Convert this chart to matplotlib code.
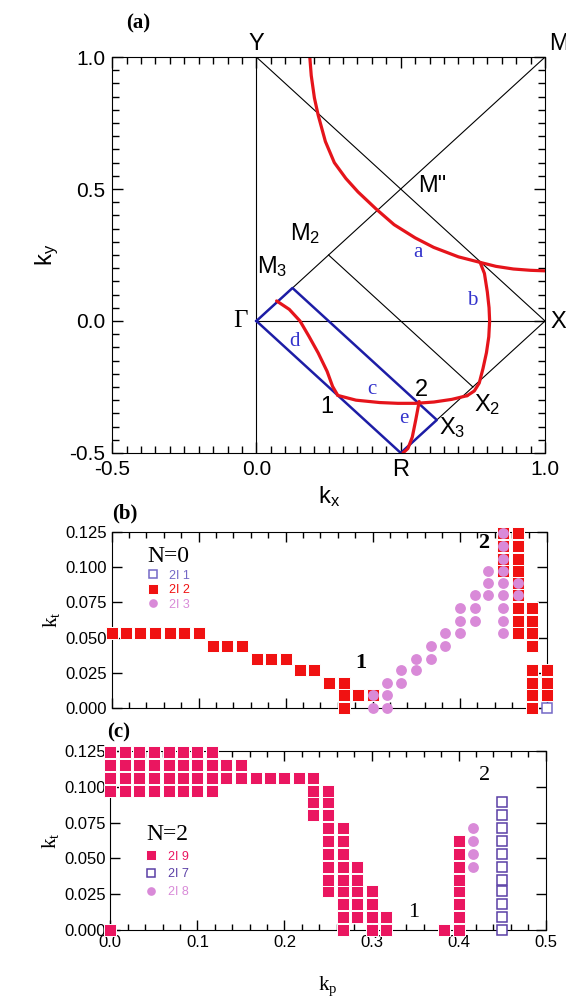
import matplotlib.pyplot as plt
from matplotlib.ticker import MultipleLocator, FormatStrFormatter, FuncFormatter

plt.rcParams['font.family'] = ['Liberation Sans', 'DejaVu Sans']
plt.rcParams['mathtext.default'] = 'regular'
plt.rcParams['axes.unicode_minus'] = False

SERIF = ['Liberation Serif', 'DejaVu Serif']

# ---------------- panel (a) : kx-ky zone ----------------
# zone boundary segments (start kx, start ky, end kx, end ky)
zone_x0 = [0.0, 0.0, 0.0, 0.0, 0.25, 0.5]
zone_y0 = [-0.5, 0.0, 0.0, 1.0, 0.25, -0.5]
zone_x1 = [0.0, 1.0, 1.0, 1.0, 0.75, 1.0]
zone_y1 = [1.0, 0.0, 1.0, 0.0, -0.25, 0.0]

# blue box Gamma-M3-X3-R
box_kx = [0.0, 0.125, 0.625, 0.5, 0.0]
box_ky = [0.0, 0.125, -0.375, -0.5, 0.0]

# red sheets a..e
fs_a_kx = [0.185, 0.190, 0.201, 0.214, 0.239, 0.270, 0.310, 0.352, 0.414, 0.477,
           0.550, 0.614, 0.700, 0.775, 0.830, 0.890, 0.950, 1.000]
fs_a_ky = [1.000, 0.930, 0.845, 0.780, 0.680, 0.600, 0.540, 0.489, 0.425, 0.365,
           0.315, 0.279, 0.243, 0.222, 0.207, 0.197, 0.192, 0.190]
fs_b_kx = [0.775, 0.790, 0.800, 0.806, 0.808, 0.805, 0.797, 0.785, 0.772, 0.755, 0.730]
fs_b_ky = [0.222, 0.180, 0.110, 0.050, 0.000, -0.060, -0.120, -0.180, -0.235, -0.265, -0.283]
fs_c_kx = [0.730, 0.677, 0.615, 0.552, 0.490, 0.427, 0.345, 0.282]
fs_c_ky = [-0.283, -0.297, -0.307, -0.312, -0.312, -0.309, -0.300, -0.282]
fs_d_kx = [0.070, 0.114, 0.151, 0.182, 0.214, 0.245, 0.264, 0.282]
fs_d_ky = [0.076, 0.044, 0.000, -0.058, -0.121, -0.191, -0.248, -0.282]
fs_e_kx = [0.564, 0.552, 0.540, 0.525, 0.508]
fs_e_ky = [-0.305, -0.375, -0.440, -0.483, -0.500]

sheet_names = ['a', 'b', 'c', 'd', 'e']
sheet_lab_kx = [0.558, 0.746, 0.400, 0.132, 0.512]
sheet_lab_ky = [0.260, 0.076, -0.260, -0.077, -0.369]

point_names = ['Y', 'M', 'M"', 'M$_2$', 'M$_3$', 'X', 'X$_2$', 'X$_3$', 'R', '1', '2']
point_kx = [0.0, 1.047, 0.610, 0.170, 0.055, 1.047, 0.800, 0.680, 0.500, 0.245, 0.572]
point_ky = [1.050, 1.050, 0.510, 0.330, 0.205, -0.005, -0.315, -0.405, -0.565, -0.325, -0.262]

# ---------------- panel (b) : N=0 ----------------
# kp : list of kt
b_2i1 = {0.500: [0.000]}
b_2i2 = {0.000: [0.053], 0.017: [0.053], 0.033: [0.053], 0.050: [0.053],
         0.067: [0.053], 0.083: [0.053], 0.100: [0.053],
         0.117: [0.044], 0.133: [0.044], 0.150: [0.044],
         0.167: [0.035], 0.183: [0.035], 0.200: [0.035],
         0.217: [0.027], 0.233: [0.027],
         0.250: [0.018], 0.267: [0.000, 0.009, 0.018],
         0.283: [0.009], 0.300: [0.009],
         0.450: [0.097, 0.106, 0.115, 0.124],
         0.467: [0.053, 0.062, 0.071, 0.080, 0.089, 0.097, 0.106, 0.115, 0.124],
         0.483: [0.000, 0.009, 0.018, 0.027, 0.044, 0.053, 0.062, 0.071],
         0.500: [0.009, 0.018, 0.027]}
b_2i3 = {0.300: [0.000, 0.009],
         0.317: [0.000, 0.009, 0.018],
         0.333: [0.018, 0.027],
         0.350: [0.027, 0.035],
         0.367: [0.035, 0.044],
         0.383: [0.044, 0.053],
         0.400: [0.053, 0.062, 0.071],
         0.417: [0.062, 0.071, 0.080],
         0.433: [0.080, 0.089, 0.097],
         0.450: [0.053, 0.062, 0.071, 0.080, 0.089, 0.097, 0.106, 0.115, 0.124],
         0.467: [0.080, 0.089]}

# ---------------- panel (c) : N=2 ----------------
c_2i9 = {0.000: [0.000, 0.097, 0.106, 0.115, 0.124],
         0.017: [0.097, 0.106, 0.115, 0.124], 0.033: [0.097, 0.106, 0.115, 0.124],
         0.050: [0.097, 0.106, 0.115, 0.124], 0.067: [0.097, 0.106, 0.115, 0.124],
         0.083: [0.097, 0.106, 0.115, 0.124], 0.100: [0.097, 0.106, 0.115, 0.124],
         0.117: [0.097, 0.106, 0.115, 0.124],
         0.133: [0.106, 0.115], 0.150: [0.106, 0.115],
         0.167: [0.106], 0.183: [0.106], 0.200: [0.106], 0.217: [0.106],
         0.233: [0.080, 0.089, 0.097, 0.106],
         0.250: [0.027, 0.035, 0.044, 0.053, 0.062, 0.071, 0.080, 0.089, 0.097],
         0.267: [0.000, 0.009, 0.018, 0.027, 0.035, 0.044, 0.053, 0.062, 0.071],
         0.283: [0.009, 0.018, 0.027, 0.035, 0.044],
         0.300: [0.000, 0.009, 0.018, 0.027],
         0.317: [0.000, 0.009],
         0.383: [0.000],
         0.400: [0.000, 0.009, 0.018, 0.027, 0.035, 0.044, 0.053, 0.062]}
c_2i7 = {0.450: [0.000, 0.009, 0.018, 0.027, 0.035, 0.044, 0.053, 0.062, 0.071, 0.080, 0.089]}
c_2i8 = {0.417: [0.044, 0.053, 0.062, 0.071]}


def flat(d):
    kp = [k for k, v in d.items() for _ in v]
    kt = [t for v in d.values() for t in v]
    return kp, kt


fig = plt.figure(figsize=(5.66, 10.01), dpi=100)

# ---------- (a)
ax = fig.add_axes([0.198, 0.5475, 0.765, 0.3955])
for i in range(len(zone_x0)):
    ax.plot([zone_x0[i], zone_x1[i]], [zone_y0[i], zone_y1[i]], c='black', lw=0.8)
ax.plot(box_kx, box_ky, c='#1d1da6', lw=1.8)
red = '#e5141b'
for kx, ky in [(fs_a_kx, fs_a_ky), (fs_b_kx, fs_b_ky), (fs_c_kx, fs_c_ky),
               (fs_d_kx, fs_d_ky), (fs_e_kx, fs_e_ky)]:
    ax.plot(kx, ky, c=red, lw=2.3, solid_capstyle='round')
for i in range(len(sheet_names)):
    ax.text(sheet_lab_kx[i], sheet_lab_ky[i], sheet_names[i], color='#3333cc',
            fontsize=15, family=SERIF, ha='center', va='center')
for i in range(len(point_names)):
    ax.text(point_kx[i], point_ky[i], point_names[i], fontsize=17,
            ha='center', va='center', clip_on=False)
ax.text(-0.056, 0.0, '\u0393', fontsize=18, family=SERIF, ha='center', va='center')
ax.set_xlim(-0.5, 1.0)
ax.set_ylim(-0.5, 1.0)
for a in (ax.xaxis, ax.yaxis):
    a.set_major_locator(MultipleLocator(0.5))
    a.set_minor_locator(MultipleLocator(0.05))
    a.set_major_formatter(FormatStrFormatter('%.1f'))
# R stands where the 0.5 label would be
ax.xaxis.set_major_formatter(FuncFormatter(lambda v, p: '' if abs(v - 0.5) < 1e-6 else '%.1f' % v))
ax.tick_params(which='both', direction='in', top=True, right=True, labelsize=15, width=1.0)
ax.tick_params(which='major', length=8, pad=5)
ax.tick_params(which='minor', length=5)
ax.set_xlabel('k$_x$', fontsize=17, labelpad=4)
ax.set_ylabel('k$_y$', fontsize=17, labelpad=6)
fig.text(0.245, 0.977, '(a)', fontsize=15, weight='bold', family=SERIF, ha='center', va='center')


def style_kt(ax):
    ax.set_xlim(0, 0.5)
    ax.set_ylim(0, 0.125)
    ax.xaxis.set_major_locator(MultipleLocator(0.1))
    ax.xaxis.set_minor_locator(MultipleLocator(0.02))
    ax.yaxis.set_major_locator(MultipleLocator(0.025))
    ax.yaxis.set_major_formatter(FormatStrFormatter('%.3f'))
    ax.xaxis.set_major_formatter(FormatStrFormatter('%.1f'))
    ax.tick_params(which='both', direction='in', top=True, right=True, labelsize=12, width=1.0)
    ax.tick_params(which='major', length=7)
    ax.tick_params(which='minor', length=4)
    ax.set_ylabel('k$_t$', fontsize=15, family=SERIF, labelpad=2)


sq = dict(ls='none', marker='s', ms=8.6, mec='white', mew=0.7, clip_on=False, zorder=3)
circ = dict(ls='none', marker='o', ms=7.8, mec='none', clip_on=False, zorder=4)
opn = dict(ls='none', marker='s', ms=7.6, mfc='white', mew=1.1, clip_on=False, zorder=3)

# ---------- (b)
bx = fig.add_axes([0.197, 0.2927, 0.769, 0.1758])
kp, kt = flat(b_2i1)
l1, = bx.plot(kp, kt, mec='#7468c6', label='2I 1', **opn)
kp, kt = flat(b_2i2)
l2, = bx.plot(kp, kt, c='#f01212', label='2I 2', **sq)
kp, kt = flat(b_2i3)
l3, = bx.plot(kp, kt, c='#d98ad8', label='2I 3', **circ)
style_kt(bx)
bx.tick_params(labelbottom=False)
bx.legend(handles=[l1, l2, l3], title='N=0', loc='upper left', bbox_to_anchor=(0.06, 0.97),
          frameon=False, fontsize=9, labelcolor=['#7468c6', '#f01212', '#d98ad8'],
          markerscale=0.8, handlelength=1.0, handletextpad=0.8, labelspacing=0.2,
          borderpad=0.2, title_fontproperties={'family': SERIF, 'size': 17})
bx.text(0.286, 0.032, '1', fontsize=16, weight='bold', family=SERIF, ha='center', va='center')
bx.text(0.428, 0.117, '2', fontsize=16, weight='bold', family=SERIF, ha='center', va='center')
fig.text(0.221, 0.4875, '(b)', fontsize=15, weight='bold', family=SERIF, ha='center', va='center')

# ---------- (c)
cx = fig.add_axes([0.195, 0.0709, 0.769, 0.179])
kp, kt = flat(c_2i9)
m9, = cx.plot(kp, kt, c='#ea1660', label='2I 9', **sq)
kp, kt = flat(c_2i7)
m7, = cx.plot(kp, kt, mec='#5a3fa6', label='2I 7', **opn)
kp, kt = flat(c_2i8)
m8, = cx.plot(kp, kt, c='#d98ad8', label='2I 8', **circ)
style_kt(cx)
cx.legend(handles=[m9, m7, m8], title='N=2', loc='upper left', bbox_to_anchor=(0.06, 0.64),
          frameon=False, fontsize=9, labelcolor=['#ea1660', '#5a3fa6', '#d98ad8'],
          markerscale=0.8, handlelength=1.0, handletextpad=0.8, labelspacing=0.45,
          borderpad=0.2, title_fontproperties={'family': SERIF, 'size': 17})
cx.text(0.348, 0.012, '1', fontsize=16, family=SERIF, ha='center', va='center')
cx.text(0.430, 0.108, '2', fontsize=16, family=SERIF, ha='center', va='center')
cx.set_xlabel('k$_p$', fontsize=15, family=SERIF, labelpad=18)
fig.text(0.21, 0.268, '(c)', fontsize=15, weight='bold', family=SERIF, ha='center', va='center')

fig.savefig('out.png', dpi=100)
